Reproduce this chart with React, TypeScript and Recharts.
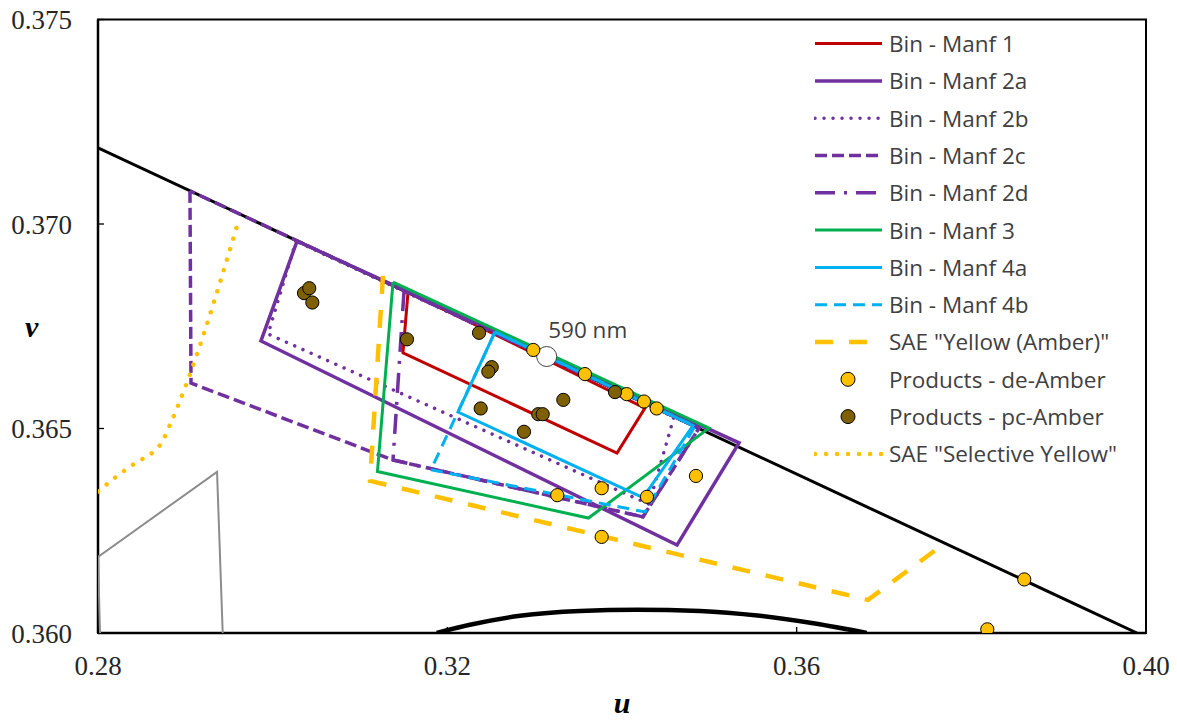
import React from 'react';
import { ScatterChart, Scatter, XAxis, YAxis, ReferenceArea, Legend } from 'recharts';

// [u, v] pairs
const spectralLocus = [[0.28, 0.37186], [0.39897, 0.36]];
const planckianLocus = [
  [0.31878, 0.36], [0.32259, 0.3602], [0.32832, 0.36042], [0.33519, 0.36054], [0.34172, 0.36057],
  [0.34893, 0.36054], [0.3558, 0.36042], [0.3621, 0.36023], [0.36802, 0.36],
];
const grayOutline = [[0.28023, 0.36], [0.28, 0.36186], [0.29363, 0.36394], [0.29428, 0.36]];

const binManf1 = [[0.3155, 0.36834], [0.31492, 0.36685], [0.33943, 0.3644], [0.34263, 0.3655], [0.3155, 0.36834]];
const binManf2a = [[0.30279, 0.36958], [0.29866, 0.36714], [0.3463, 0.36215], [0.3534, 0.36465], [0.30279, 0.36958]];
const binManf2b = [[0.30267, 0.36958], [0.29947, 0.36731], [0.34309, 0.36315], [0.34595, 0.36528], [0.30267, 0.36958]];
const binManf2c = [[0.29053, 0.37081], [0.29065, 0.36611], [0.31378, 0.36423], [0.3424, 0.36284], [0.34882, 0.36501], [0.29053, 0.37081]];
const binManf2d = [[0.31504, 0.36836], [0.31378, 0.36423], [0.3424, 0.36284], [0.34882, 0.36501], [0.31504, 0.36836]];
const binManf3 = [[0.31378, 0.36858], [0.312, 0.36395], [0.33616, 0.36281], [0.34996, 0.36501], [0.31378, 0.36858]];
const binManf4a = [[0.32546, 0.36736], [0.32122, 0.3654], [0.3424, 0.36331], [0.34813, 0.36507], [0.32546, 0.36736]];
const binManf4b = [[0.32546, 0.36736], [0.31813, 0.36399], [0.34263, 0.36296], [0.34836, 0.36506], [0.32546, 0.36736]];
const saeAmber = [[0.31263, 0.36873], [0.31115, 0.36372], [0.36817, 0.36081], [0.37699, 0.3622]];
const saeSelectiveYellow = [
  [0.28, 0.36346], [0.28252, 0.36389], [0.28447, 0.36418], [0.28618, 0.3644],
  [0.28733, 0.36467], [0.28824, 0.36509], [0.2962, 0.37015],
];

const deAmber = [
  [0.32984, 0.36692], [0.33576, 0.36633], [0.34054, 0.36584], [0.34252, 0.36566], [0.34397, 0.36549],
  [0.34847, 0.36384], [0.33767, 0.36354], [0.34286, 0.36333], [0.33259, 0.36337], [0.33767, 0.36235],
  [0.38606, 0.36131], [0.38183, 0.36009],
];
const pcAmber = [
  [0.30359, 0.36831], [0.30419, 0.36843], [0.30454, 0.36808], [0.31538, 0.36718], [0.32363, 0.36734],
  [0.32508, 0.3665], [0.32469, 0.36639], [0.32382, 0.36549], [0.33328, 0.3657], [0.33041, 0.36535],
  [0.33092, 0.36535], [0.32878, 0.36492], [0.3392, 0.36589],
];
const wavelength590 = [[0.33138, 0.36676]];

const xTicks = [0.28, 0.32, 0.36, 0.4];
const yTicks = [0.36, 0.365, 0.37, 0.375];

const toPts = (arr: number[][]) => arr.map(([u, v]) => ({ u, v }));

const RED = '#C00000';
const PURPLE = '#7030A0';
const GREEN = '#00B050';
const BLUE = '#00B0F0';
const AMBER = '#FFC000';
const BROWN = '#7F6000';

const lineSeries = [
  { name: 'Bin - Manf 1', data: binManf1, color: RED, width: 3 },
  { name: 'Bin - Manf 2a', data: binManf2a, color: PURPLE, width: 3.5 },
  { name: 'Bin - Manf 2b', data: binManf2b, color: PURPLE, width: 3.5, dash: '0.01 9', cap: 'round' },
  { name: 'Bin - Manf 2c', data: binManf2c, color: PURPLE, width: 3.5, dash: '12 5' },
  { name: 'Bin - Manf 2d', data: binManf2d, color: PURPLE, width: 3.5, dash: '20 9 3 9' },
  { name: 'Bin - Manf 3', data: binManf3, color: GREEN, width: 3 },
  { name: 'Bin - Manf 4a', data: binManf4a, color: BLUE, width: 3 },
  { name: 'Bin - Manf 4b', data: binManf4b, color: BLUE, width: 3, dash: '12 7' },
  { name: 'SAE "Yellow (Amber)"', data: saeAmber, color: AMBER, width: 4.5, dash: '18 16' },
];

const legendRows = [
  ...lineSeries.map((s) => ({ name: s.name, color: s.color, width: s.width, dash: s.dash, cap: s.cap, marker: false })),
  { name: 'Products - de-Amber', color: AMBER, width: 0, dash: undefined, cap: undefined, marker: true },
  { name: 'Products - pc-Amber', color: BROWN, width: 0, dash: undefined, cap: undefined, marker: true },
  { name: 'SAE "Selective Yellow"', color: AMBER, width: 4.5, dash: '0.01 11', cap: 'round', marker: false },
];

const noShape = () => <g />;

function ChartLegend() {
  return (
    <svg width={360} height={450} style={{ display: 'block' }}>
      {legendRows.map((row, i) => {
        const y = 18.6 + i * 37.3;
        return (
          <g key={row.name}>
            {row.marker ? (
              <circle cx={34} cy={y} r={7} fill={row.color} stroke="#000" strokeWidth={1} />
            ) : (
              <line x1={1} x2={68} y1={y} y2={y} stroke={row.color} strokeWidth={row.width}
                strokeDasharray={row.dash} strokeLinecap={row.cap as any} />
            )}
            <text x={75} y={y + 8.4} fontFamily="Open Sans" fontSize={22.5} fill="#404040">{row.name}</text>
          </g>
        );
      })}
    </svg>
  );
}

const dotShape = (fill: string) => (p: any) => (
  <circle cx={p.cx} cy={p.cy} r={6.6} fill={fill} stroke="#000" strokeWidth={1} />
);

const markerShape = (p: any) => (
  <g>
    <circle cx={p.cx} cy={p.cy} r={10} fill="#fff" stroke="#404040" strokeWidth={1} />
    <text x={p.cx + 41} y={p.cy - 18.4} textAnchor="middle" fontFamily="Open Sans" fontSize={22.5} fill="#404040">
      590 nm
    </text>
  </g>
);

const tickStyle = { fontFamily: 'Liberation Serif', fontSize: 27, fill: '#262626' };

export default function App() {
  return (
    <div style={{ position: 'fixed', left: 0, top: 0, width: 1177, height: 721, background: '#fff' }}>
      <ScatterChart width={1177} height={721} margin={{ top: 19.5, right: 31, bottom: 0, left: 0 }}>
        <XAxis
          type="number"
          dataKey="u"
          domain={[0.28, 0.4]}
          allowDataOverflow
          ticks={xTicks}
          tickFormatter={(t: number) => t.toFixed(2)}
          tick={tickStyle}
          tickSize={-6}
          tickMargin={29}
          height={88}
          axisLine={{ stroke: '#000', strokeWidth: 2.5 }}
          tickLine={{ stroke: '#000', strokeWidth: 1.3 }}
          label={{ value: 'u', position: 'insideBottom', offset: 8, fontFamily: 'Liberation Serif', fontSize: 30, fontWeight: 'bold', fontStyle: 'italic', fill: '#000' }}
        />
        <YAxis
          type="number"
          dataKey="v"
          domain={[0.36, 0.375]}
          allowDataOverflow
          ticks={yTicks}
          tickFormatter={(t: number) => t.toFixed(3)}
          tick={tickStyle}
          tickSize={-6}
          tickMargin={32}
          width={98}
          axisLine={{ stroke: '#000', strokeWidth: 2.5 }}
          tickLine={{ stroke: '#000', strokeWidth: 1.3 }}
          label={{ value: 'v', position: 'insideLeft', offset: 25, fontFamily: 'Liberation Serif', fontSize: 30, fontWeight: 'bold', fontStyle: 'italic', fill: '#000' }}
        />
        <ReferenceArea x1={0.28} x2={0.4} y1={0.36} y2={0.375} fill="none" stroke="#000" strokeWidth={2} ifOverflow="visible" />

        <Scatter data={toPts(grayOutline)} shape={noShape} line={{ stroke: '#8C8C8C', strokeWidth: 2 }} isAnimationActive={false} />
        <Scatter data={toPts(planckianLocus)} shape={noShape} lineJointType="monotoneX" line={{ stroke: '#000', strokeWidth: 4.5 }} isAnimationActive={false} />
        <Scatter data={toPts(spectralLocus)} shape={noShape} line={{ stroke: '#000', strokeWidth: 3 }} isAnimationActive={false} />

        {lineSeries.map((s) => (
          <Scatter
            key={s.name}
            name={s.name}
            data={toPts(s.data)}
            shape={noShape}
            line={{ stroke: s.color, strokeWidth: s.width, strokeDasharray: s.dash, strokeLinecap: s.cap as any, strokeLinejoin: 'miter' }}
            isAnimationActive={false}
          />
        ))}

        <Scatter data={toPts(wavelength590)} shape={markerShape} isAnimationActive={false} />
        <Scatter name="Products - de-Amber" data={toPts(deAmber)} shape={dotShape(AMBER)} isAnimationActive={false} />
        <Scatter name="Products - pc-Amber" data={toPts(pcAmber)} shape={dotShape(BROWN)} isAnimationActive={false} />
        <Scatter
          name='SAE "Selective Yellow"'
          data={toPts(saeSelectiveYellow)}
          shape={noShape}
          lineJointType="monotone"
          line={{ stroke: AMBER, strokeWidth: 4.5, strokeDasharray: '0.01 11', strokeLinecap: 'round' }}
          isAnimationActive={false}
        />

        <Legend
          layout="vertical"
          align="center"
          verticalAlign="middle"
          wrapperStyle={{ left: 814, top: 24.7, width: 360, height: 450 }}
          content={() => <ChartLegend />}
        />
      </ScatterChart>
    </div>
  );
}
